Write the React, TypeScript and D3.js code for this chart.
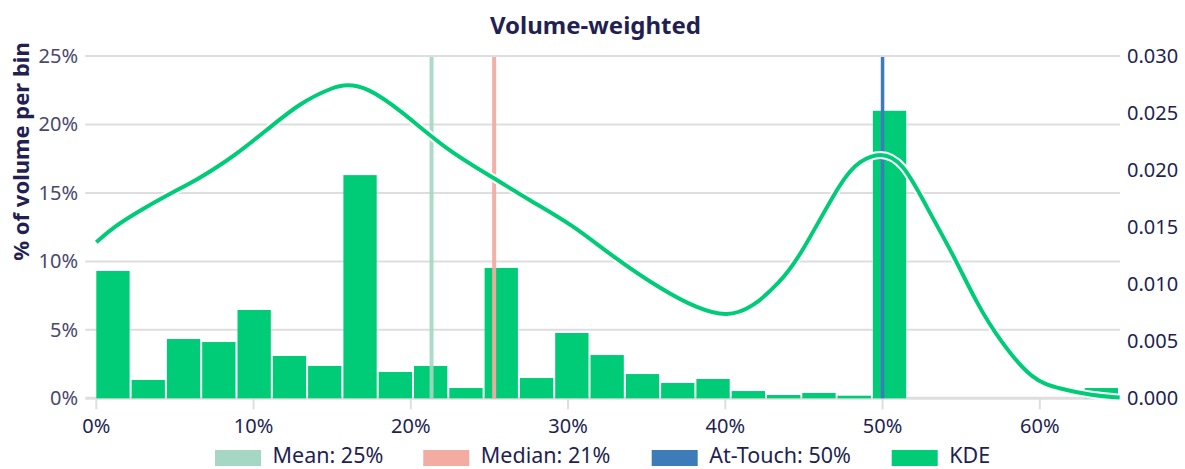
import React from "react";
import * as d3 from "d3";

// ---- data ----
const X_MAX = 65.1; // % (x-axis range end)
const BIN_COUNT = 29;
const binShares = [9.3, 1.34, 4.33, 4.11, 6.45, 3.09, 2.36, 16.3, 1.92, 2.36, 0.75, 9.52, 1.48, 4.77, 3.16, 1.77, 1.12, 1.41, 0.53, 0.24, 0.39, 0.19, 21.0, 0, 0, 0, 0, 0, 0.75];

const kdeX = [0, 1.08, 2.78, 4.48, 6.59, 7.65, 8.71, 10.83, 12.95, 15.07, 15.92, 17.19, 19.31, 22.3, 25.22, 27.57, 30.3, 32.85, 36.03, 38.19, 40.1, 41.75, 43.46, 44.73, 47.47, 48.55, 49.82, 51.28, 52.81, 54.46, 55.99, 57.45, 59.55, 61.26, 63.36, 65.08];
const kdeY = [0.01368, 0.015, 0.01646, 0.01778, 0.0193, 0.02025, 0.0212, 0.0235, 0.0259, 0.02728, 0.0275, 0.02728, 0.0253, 0.02173, 0.01936, 0.01734, 0.0152, 0.0124, 0.00945, 0.0079, 0.00712, 0.00796, 0.01015, 0.01234, 0.0194, 0.0208, 0.0216, 0.0208, 0.01673, 0.01269, 0.00831, 0.00506, 0.0015, 0.00085, 0.00024, 0.00006];

const meanX = 21.32;
const medianX = 25.3;
const touchX = 50;

const xTicks = [0, 10, 20, 30, 40, 50, 60];
const yLeftTicks = [0, 5, 10, 15, 20, 25];
const yRightTicks = [0, 0.005, 0.01, 0.015, 0.02, 0.025, 0.03];

const legendLabels = ["Mean: 25%", "Median: 21%", "At-Touch: 50%", "KDE"];

// ---- styles ----
const W = 1185;
const H = 469;
const M = { left: 96.3, right: 1120, top: 56, bottom: 398.3 };
const GREEN = "#00cc78";
const MEAN_C = "#a6d7c5";
const MEDIAN_C = "#f3aca2";
const TOUCH_C = "#3d7bb9";
const GRID = "#dedede";
const TICK_TEXT = "#4a486e";
const DARK = "#231f52";
const FONT = "'Noto Sans', 'Open Sans', sans-serif";
const legendColors = [MEAN_C, MEDIAN_C, TOUCH_C, GREEN];
const legendSwatchX = [215, 423.3, 651.7, 891.7];

export default function App() {
  const x = d3.scaleLinear().domain([0, X_MAX]).range([M.left, M.right]);
  const yL = d3.scaleLinear().domain([0, 25]).range([M.bottom, M.top]);
  const yR = d3.scaleLinear().domain([0, 0.03]).range([M.bottom, M.top]);
  const binW = X_MAX / BIN_COUNT;

  const kdePts: [number, number][] = kdeX.map((v, i) => [v, kdeY[i]]);
  const line = d3
    .line<[number, number]>()
    .x((d) => x(d[0]))
    .y((d) => yR(d[1]))
    .curve(d3.curveBasis);
  const kdePath = line(kdePts) || "";

  return (
    <div style={{ position: "absolute", left: 0, top: 0 }}>
      <svg width={W} height={H} style={{ display: "block", fontFamily: FONT }}>
        <rect width={W} height={H} fill="#fff" />
        {/* gridlines */}
        {yLeftTicks.map((t) => (
          <line key={"g" + t} x1={M.left - 11} x2={M.right} y1={yL(t)} y2={yL(t)} stroke={GRID} strokeWidth={t === 0 ? 3 : 2} />
        ))}
        {/* x ticks */}
        {xTicks.map((t) => (
          <line key={"xt" + t} x1={x(t)} x2={x(t)} y1={M.bottom} y2={M.bottom + 11} stroke={GRID} strokeWidth={2} />
        ))}
        {/* bars */}
        {binShares.map((v, i) =>
          v > 0 ? (
            <rect
              key={"b" + i}
              x={x(i * binW)}
              width={x((i + 1) * binW) - x(i * binW) - 2}
              y={yL(v)}
              height={yL(0) - yL(v)}
              fill={GREEN}
            />
          ) : null
        )}
        {/* vertical reference lines */}
        <line x1={x(meanX)} x2={x(meanX)} y1={yL(25) + 1} y2={yL(0)} stroke={MEAN_C} strokeWidth={4} opacity={0.9} />
        <line x1={x(medianX)} x2={x(medianX)} y1={yL(25) + 1} y2={yL(0)} stroke={MEDIAN_C} strokeWidth={4} opacity={0.95} />
        <line x1={x(touchX)} x2={x(touchX)} y1={yL(25) + 1} y2={yL(0)} stroke={TOUCH_C} strokeWidth={3.5} />
        {/* KDE */}
        <path d={kdePath} fill="none" stroke="#fff" strokeWidth={8} strokeLinejoin="round" />
        <path d={kdePath} fill="none" stroke={GREEN} strokeWidth={4} strokeLinejoin="round" />
        {/* x tick labels */}
        {xTicks.map((t) => (
          <text key={"xl" + t} x={x(t)} y={433} textAnchor="middle" fontSize={20} fill={DARK}>
            {t + "%"}
          </text>
        ))}
        {/* left tick labels */}
        {yLeftTicks.map((t) => (
          <text key={"yl" + t} x={78} y={yL(t)} dy="0.35em" textAnchor="end" fontSize={20} fill={TICK_TEXT}>
            {t + "%"}
          </text>
        ))}
        {/* right tick labels */}
        {yRightTicks.map((t) => (
          <text key={"yr" + t} x={1127} y={yR(t)} dy="0.35em" textAnchor="start" fontSize={20} fill={DARK}>
            {d3.format(".3f")(t)}
          </text>
        ))}
        {/* title */}
        <text x={595.5} y={34} textAnchor="middle" fontSize={24} fontWeight="bold" fill={DARK}>
          Volume-weighted
        </text>
        {/* y title */}
        <text transform="translate(29,151.5) rotate(-90)" textAnchor="middle" fontSize={22} fontWeight="bold" fill={DARK}>
          % of volume per bin
        </text>
        {/* legend */}
        {legendLabels.map((lab, i) => (
          <g key={"lg" + i}>
            <rect x={legendSwatchX[i]} y={450} width={46} height={16} fill={legendColors[i]} />
            <text x={legendSwatchX[i] + 57.5} y={463} fontSize={21.5} fill={DARK}>
              {lab}
            </text>
          </g>
        ))}
      </svg>
    </div>
  );
}
